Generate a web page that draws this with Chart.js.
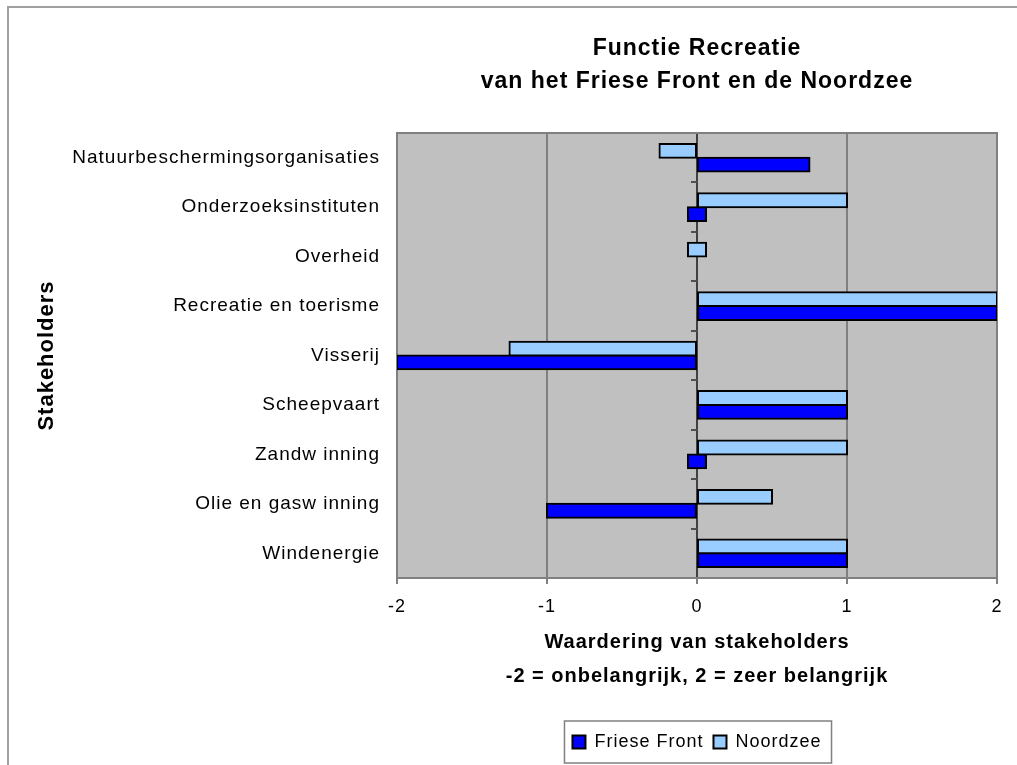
<!DOCTYPE html>
<html>
<head>
<meta charset="utf-8">
<title>Functie Recreatie</title>
<script src="https://cdn.jsdelivr.net/npm/chart.js@4.4.0/dist/chart.umd.min.js"></script>
<style>
  html, body { margin: 0; padding: 0; background: #fff; overflow: hidden; }
  #frame {
    position: absolute; left: 7px; top: 6px; width: 1100px; height: 900px;
    border-top: 2px solid #a0a0a0; border-left: 2px solid #a0a0a0;
  }
  #chart { position: absolute; left: 0; top: 0; }
</style>
</head>
<body>
<div id="frame"></div>
<canvas id="chart" width="1017" height="765"></canvas>
<script>
// Stakeholders, top to bottom
const categories = [
    'Natuurbeschermingsorganisaties',
    'Onderzoeksinstituten',
    'Overheid',
    'Recreatie en toerisme',
    'Visserij',
    'Scheepvaart',
    'Zandw inning',
    'Olie en gasw inning',
    'Windenergie'
];

// Waardering (-2 .. 2); the small squares around 0 are floating bars
const noordzee = [-0.25, 1, [-0.06, 0.06], 2, -1.25, 1, 1, 0.5, 1];
const frieseFront = [0.75, [-0.06, 0.06], null, 2, -2, 1, [-0.06, 0.06], -1, 1];

const xTicks = [-2, -1, 0, 1, 2];

const FONT = "'Liberation Sans', Arial, sans-serif";

// chart area background, frame and the small ticks on the zero line
const plotDecor = {
    id: 'plotDecor',
    beforeUpdate(chart) {
        chart.ctx.letterSpacing = '1px';
    },
    beforeDraw(chart) {
        const { ctx, chartArea: a } = chart;
        ctx.letterSpacing = '1px';
        ctx.save();
        ctx.fillStyle = '#c0c0c0';
        ctx.fillRect(a.left, a.top, a.right - a.left, a.bottom - a.top);
        ctx.restore();
    },
    beforeDatasetsDraw(chart) {
        const { ctx, chartArea: a } = chart;
        const x = chart.scales.x;
        const y = chart.scales.y;
        const x0 = x.getPixelForValue(0);
        ctx.save();
        ctx.strokeStyle = '#505050';
        ctx.lineWidth = 2;
        for (let i = 1; i < categories.length; i++) {
            const py = Math.round(y.getPixelForValue(i - 0.5));
            ctx.beginPath();
            ctx.moveTo(x0 - 6, py);
            ctx.lineTo(x0, py);
            ctx.stroke();
        }
        ctx.strokeStyle = '#808080';
        ctx.strokeRect(a.left, a.top, a.right - a.left, a.bottom - a.top);
        ctx.restore();
    },
    afterDraw(chart) {
        // box round the legend
        const boxes = chart.legend.legendHitBoxes;
        if (!boxes || !boxes.length) return;
        const left = Math.min(...boxes.map(b => b.left));
        const right = Math.max(...boxes.map(b => b.left + b.width));
        const top = Math.min(...boxes.map(b => b.top));
        const bottom = Math.max(...boxes.map(b => b.top + b.height));
        const ctx = chart.ctx;
        ctx.save();
        ctx.strokeStyle = '#808080';
        ctx.lineWidth = 1.5;
        ctx.strokeRect(left - 8, top - 12, right - left + 18, bottom - top + 24);
        ctx.restore();
    }
};

new Chart(document.getElementById('chart'), {
    type: 'bar',
    data: {
        labels: categories,
        datasets: [
            {
                label: 'Noordzee',
                data: noordzee,
                backgroundColor: '#99ccff',
                borderColor: '#000',
                borderWidth: 2,
                borderSkipped: false,
                inflateAmount: 1
            },
            {
                label: 'Friese Front',
                data: frieseFront,
                backgroundColor: '#0000ff',
                borderColor: '#000',
                borderWidth: 2,
                borderSkipped: false,
                inflateAmount: 1
            }
        ]
    },
    options: {
        indexAxis: 'y',
        responsive: false,
        animation: false,
        datasets: {
            bar: { categoryPercentage: 0.56, barPercentage: 1 }
        },
        layout: { padding: { left: 0, right: 20, top: 0, bottom: 4 } },
        plugins: {
            tooltip: { enabled: false },
            title: {
                display: true,
                fullSize: false,
                text: ['Functie Recreatie', 'van het Friese Front en de Noordzee'],
                color: '#000',
                font: { family: FONT, size: 23, weight: 'bold', lineHeight: 1.435 },
                padding: { top: 32, bottom: 35 }
            },
            legend: {
                position: 'bottom',
                fullSize: false,
                reverse: true,
                labels: {
                    color: '#000',
                    font: { family: FONT, size: 18 },
                    boxWidth: 13,
                    boxHeight: 13,
                    padding: 10
                }
            }
        },
        scales: {
            x: {
                min: -2,
                max: 2,
                afterBuildTicks(scale) {
                    scale.ticks = xTicks.map(v => ({ value: v }));
                },
                afterFit(scale) {
                    scale.height = 145;
                },
                grid: {
                    color: c => (c.tick && c.tick.value === 0 ? '#404040' : '#808080'),
                    lineWidth: 2,
                    tickColor: '#808080',
                    tickLength: 6
                },
                border: { display: false },
                ticks: {
                    color: '#000',
                    font: { family: FONT, size: 18 },
                    padding: 12
                },
                title: {
                    display: true,
                    text: ['Waardering van stakeholders', '-2 = onbelangrijk, 2 = zeer belangrijk'],
                    color: '#000',
                    font: { family: FONT, size: 20, weight: 'bold', lineHeight: 1.7 },
                    padding: { top: 0, bottom: 30 }
                }
            },
            y: {
                afterFit(scale) {
                    scale.width = 397;
                },
                grid: { display: false },
                border: { display: false },
                ticks: {
                    color: '#000',
                    font: { family: FONT, size: 19 },
                    padding: 9
                },
                title: {
                    display: true,
                    text: 'Stakeholders',
                    color: '#000',
                    font: { family: FONT, size: 22, weight: 'bold', lineHeight: 1.2 },
                    padding: { top: 34, bottom: 0 }
                }
            }
        }
    },
    plugins: [plotDecor]
});
</script>
</body>
</html>
